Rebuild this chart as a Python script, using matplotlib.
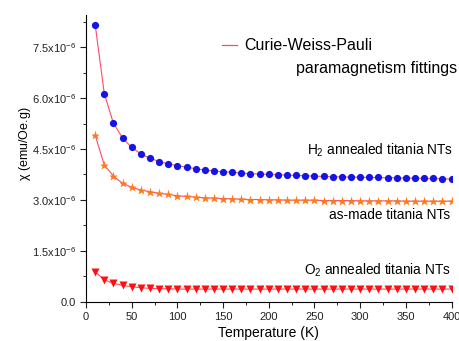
import matplotlib.pyplot as plt
from matplotlib.ticker import MultipleLocator, FuncFormatter

plt.rcParams['font.family'] = ['Liberation Sans', 'DejaVu Sans']
plt.rcParams['mathtext.default'] = 'regular'

# temperature (K), one point every 10 K
temp = list(range(10, 401, 10))

# chi in units of 1e-6 emu/Oe.g
chi_h2 = [8.17, 6.13, 5.26, 4.82, 4.55, 4.35, 4.23, 4.13, 4.06, 4.01,
          3.96, 3.92, 3.88, 3.85, 3.83, 3.81, 3.79, 3.77, 3.76, 3.75,
          3.74, 3.73, 3.72, 3.71, 3.70, 3.69, 3.68, 3.68, 3.67, 3.67,
          3.66, 3.66, 3.65, 3.65, 3.64, 3.64, 3.63, 3.63, 3.62, 3.61]
chi_asmade = [4.91, 4.03, 3.70, 3.49, 3.37, 3.29, 3.24, 3.19, 3.16, 3.12,
              3.10, 3.08, 3.06, 3.05, 3.04, 3.03, 3.02, 3.01, 3.01, 3.00,
              3.00, 2.99, 2.99, 2.99, 2.99, 2.98, 2.98, 2.98, 2.98, 2.97,
              2.97, 2.97, 2.97, 2.97, 2.96, 2.96, 2.96, 2.96, 2.96, 2.96]
chi_o2 = [0.88, 0.64, 0.54, 0.48, 0.44, 0.41, 0.39, 0.38, 0.38, 0.37,
          0.37, 0.37, 0.37, 0.37, 0.37, 0.37, 0.37, 0.37, 0.37, 0.37,
          0.37, 0.37, 0.37, 0.37, 0.37, 0.37, 0.37, 0.37, 0.37, 0.37,
          0.37, 0.37, 0.37, 0.37, 0.37, 0.37, 0.37, 0.37, 0.37, 0.37]

ytick_vals = [0.0, 1.5, 3.0, 4.5, 6.0, 7.5]

fig = plt.figure(figsize=(4.59, 3.41), dpi=100)
ax = fig.add_axes([0.1874, 0.1155, 0.7963, 0.8405])

fit_col = '#ff4a6a'
ax.plot(temp, chi_h2, color=fit_col, lw=0.8, zorder=1)
ax.plot(temp, chi_asmade, color=fit_col, lw=0.8, zorder=1)
ax.plot(temp, chi_o2, color=fit_col, lw=0.8, zorder=1)

ax.plot(temp, chi_h2, 'o', color='#1414e6', ms=5.2, mec='none', zorder=3)
ax.plot(temp, chi_asmade, '*', color='#ff7a1a', ms=6.5, mec='none', zorder=3)
ax.plot(temp, chi_o2, 'v', color='#ff1010', ms=5.8, mec='none', zorder=3)

ax.set_xlim(0, 400)
ax.set_ylim(0, 8.45)
ax.spines['top'].set_visible(False)
ax.spines['right'].set_visible(False)

ax.xaxis.set_major_locator(MultipleLocator(50))
ax.xaxis.set_minor_locator(MultipleLocator(25))
ax.set_yticks(ytick_vals)
ax.yaxis.set_minor_locator(MultipleLocator(0.75))


def yfmt(v, pos):
    if abs(v) < 1e-9:
        return '0.0'
    return '%.1fx10$^{-6}$' % v


ax.yaxis.set_major_formatter(FuncFormatter(yfmt))
ax.tick_params(which='major', direction='out', length=4, labelsize=8, colors='#222222')
ax.tick_params(which='minor', direction='out', length=2.5)

ax.set_xlabel('Temperature (K)', fontsize=10, labelpad=3)
ax.set_ylabel(r'$\chi$ (emu/Oe.g)', fontsize=9)
ax.yaxis.set_label_coords(-0.145, 0.55)

# legend-like fit label
fig.add_artist(plt.Line2D([222 / 459, 237 / 459], [1 - 45 / 341, 1 - 45 / 341],
                          color=fit_col, lw=0.9))
fig.text(244 / 459, 1 - 45 / 341, 'Curie-Weiss-Pauli', fontsize=11.5, va='center')
fig.text(457 / 459, 1 - 69 / 341, 'paramagnetism fittings', fontsize=11.5,
         va='center', ha='right')

fig.text(453 / 459, 1 - 150 / 341, 'H$_2$ annealed titania NTs', fontsize=9.8,
         va='center', ha='right')
fig.text(450 / 459, 1 - 215 / 341, 'as-made titania NTs', fontsize=9.8,
         va='center', ha='right')
fig.text(451 / 459, 1 - 270 / 341, 'O$_2$ annealed titania NTs', fontsize=9.8,
         va='center', ha='right')

fig.savefig('out.png', dpi=100)
